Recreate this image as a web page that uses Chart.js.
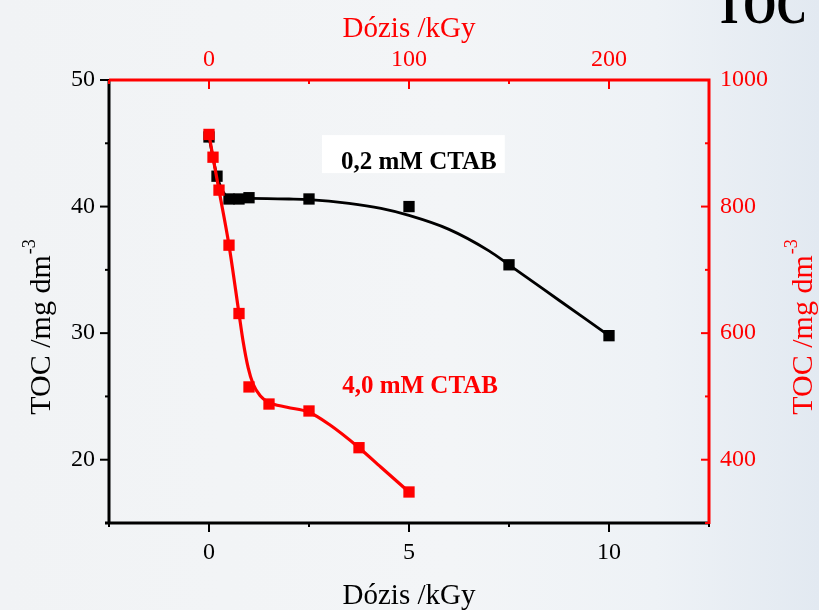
<!DOCTYPE html>
<html>
<head>
<meta charset="utf-8">
<script src="https://cdn.jsdelivr.net/npm/chart.js@4.4.1/dist/chart.umd.min.js"></script>
<style>
  html, body { margin: 0; padding: 0; }
  body {
    width: 819px; height: 610px; overflow: hidden;
    background: linear-gradient(90deg, #f1f3f5 0%, #f3f5f7 55%, #eef2f6 80%, #e2e9f1 100%);
  }
  canvas { display: block; }
</style>
</head>
<body>
<canvas id="chart" width="819" height="610"></canvas>
<script>
// measured points, 0,2 mM CTAB (left axis)
var doseLow = [0, 0.2, 0.5, 0.75, 1, 2.5, 5, 7.5, 10];
var tocLow = [45.5, 42.4, 40.6, 40.6, 40.7, 40.6, 40.0, 35.4, 29.8];
// fitted curve
var fitDoseLow = [0, 0.2, 0.35, 0.5, 1, 2, 2.5, 3.5, 4.3, 5, 6, 7, 7.5, 8.75, 10];
var fitTocLow = [45.5, 42.4, 41.2, 40.7, 40.65, 40.6, 40.55, 40.25, 39.85, 39.3, 38.2, 36.5, 35.4, 32.6, 29.8];

// measured points, 4,0 mM CTAB (right axis)
var doseHigh = [0, 0.1, 0.25, 0.5, 0.75, 1, 1.5, 2.5, 3.75, 5];
var tocHigh = [914, 878, 826, 739, 631, 515, 488, 477, 419, 349];
var fitDoseHigh = [0, 0.1, 0.25, 0.5, 0.75, 0.85, 0.98, 1.1, 1.28, 1.48, 1.95, 2.5, 3.0, 3.75, 4.3, 5];
var fitTocHigh = [914, 878, 826, 739, 631, 588, 545, 520, 501, 491, 483, 475, 456, 419, 388, 349];

// tick labels
var bottomMajor = [0, 5, 10];
var bottomMinor = [-2.5, 2.5, 7.5, 12.5];
var topMajor = [0, 100, 200];
var topMinor = [-50, 50, 150, 250];
var leftMajor = [20, 30, 40, 50];
var leftMinor = [15, 25, 35, 45];
var rightMajor = [400, 600, 800, 1000];
var rightMinor = [300, 500, 700, 900];

var RED = '#ff0000';
var SERIF = '"Liberation Serif", "Times New Roman", serif';

function pts(xs, ys) {
    return xs.map(function(x, i) { return { x: x, y: ys[i] }; });
}

function setTicks(major, minor) {
    return function(scale) {
	scale.ticks = major.concat(minor).sort(function(a, b) { return a - b; })
	    .map(function(v) { return { value: v, major: major.indexOf(v) >= 0 }; });
    };
}

function tickLabel(major) {
    return function(value) {
	return major.indexOf(value) >= 0 ? String(value) : '';
    };
}

function tickFont() {
    return { family: SERIF, size: 24 };
}

// axis lines, tick marks, titles and text labels
var framePlugin = {
    id: 'frame',
    beforeDatasetsDraw: function(chart) {
	var ctx = chart.ctx;
	var x = chart.scales.x, y = chart.scales.y;
	ctx.save();
	ctx.font = 'bold 25px ' + SERIF;
	ctx.textBaseline = 'alphabetic';
	var tx = x.getPixelForValue(3.3), ty = y.getPixelForValue(42.96);
	var w = ctx.measureText('0,2 mM CTAB').width;
	ctx.fillStyle = '#ffffff';
	ctx.fillRect(tx - 19, ty - 34, w + 27, 38);
	ctx.fillStyle = '#000000';
	ctx.fillText('0,2 mM CTAB', tx, ty);
	ctx.restore();
    },
    afterDraw: function(chart) {
	var ctx = chart.ctx;
	var a = chart.chartArea;
	var sx = chart.scales.x, sxt = chart.scales.xTop;
	var sy = chart.scales.y, syr = chart.scales.yRight;
	ctx.save();

	// red label
	ctx.font = 'bold 25px ' + SERIF;
	ctx.fillStyle = RED;
	ctx.fillText('4,0 mM CTAB', sx.getPixelForValue(3.33), sy.getPixelForValue(25.26));

	ctx.lineWidth = 3;
	ctx.lineCap = 'butt';
	// left + bottom (black)
	ctx.strokeStyle = '#000000';
	ctx.beginPath();
	ctx.moveTo(a.left, a.top);
	ctx.lineTo(a.left, a.bottom);
	ctx.moveTo(a.left - 4, a.bottom);
	ctx.lineTo(a.right, a.bottom);
	ctx.stroke();
	ctx.lineWidth = 2;
	sy.ticks.forEach(function(t) {
	    var p = sy.getPixelForValue(t.value);
	    ctx.beginPath();
	    ctx.moveTo(a.left, p);
	    ctx.lineTo(a.left - (t.major ? 9 : 4), p);
	    ctx.stroke();
	});
	sx.ticks.forEach(function(t) {
	    var p = sx.getPixelForValue(t.value);
	    ctx.beginPath();
	    ctx.moveTo(p, a.bottom);
	    ctx.lineTo(p, a.bottom + (t.major ? 9 : 4));
	    ctx.stroke();
	});

	// top + right (red)
	ctx.strokeStyle = RED;
	ctx.lineWidth = 3;
	ctx.beginPath();
	ctx.moveTo(a.left, a.top);
	ctx.lineTo(a.right, a.top);
	ctx.lineTo(a.right, a.bottom + 1);
	ctx.stroke();
	ctx.lineWidth = 2;
	sxt.ticks.forEach(function(t) {
	    var p = sxt.getPixelForValue(t.value);
	    ctx.beginPath();
	    ctx.moveTo(p, a.top);
	    ctx.lineTo(p, a.top + (t.major ? 9 : 4));
	    ctx.stroke();
	});
	syr.ticks.forEach(function(t) {
	    var p = syr.getPixelForValue(t.value);
	    ctx.beginPath();
	    ctx.moveTo(a.right, p);
	    ctx.lineTo(a.right - (t.major ? 8 : 4), p);
	    ctx.stroke();
	});

	// x titles
	var cx = (a.left + a.right) / 2;
	ctx.font = '29px ' + SERIF;
	ctx.textAlign = 'center';
	ctx.textBaseline = 'alphabetic';
	ctx.fillStyle = RED;
	ctx.fillText('Dózis /kGy', cx, 37);
	ctx.fillStyle = '#000000';
	ctx.fillText('Dózis /kGy', cx, 604);

	// y titles with superscript
	function yTitle(bx, color) {
	    var cy = 327;
	    ctx.save();
	    ctx.translate(bx, cy);
	    ctx.rotate(-Math.PI / 2);
	    ctx.fillStyle = color;
	    ctx.textAlign = 'left';
	    ctx.font = '30px ' + SERIF;
	    var main = 'TOC /mg dm';
	    var mw = ctx.measureText(main).width;
	    ctx.font = '18px ' + SERIF;
	    var sw = ctx.measureText('-3').width;
	    var start = -(mw + sw + 1) / 2;
	    ctx.font = '30px ' + SERIF;
	    ctx.fillText(main, start, 0);
	    ctx.font = '18px ' + SERIF;
	    ctx.fillText('-3', start + mw + 1, -15);
	    ctx.restore();
	}
	yTitle(50, '#000000');
	yTitle(812, RED);

	// slide heading, cut at the top edge
	ctx.save();
	ctx.translate(715, 23);
	ctx.scale(1, 1.3);
	ctx.font = 'bold 43px ' + SERIF;
	ctx.textAlign = 'left';
	ctx.fillStyle = '#000000';
	ctx.fillText('TOC', 0, 0);
	ctx.restore();

	ctx.restore();
    }
};

new Chart(document.getElementById('chart').getContext('2d'), {
    type: 'scatter',
    data: {
	datasets: [
	    { data: pts(doseHigh, tocHigh), xAxisID: 'x', yAxisID: 'yRight', order: 0,
	      pointStyle: 'rect', pointRadius: 8, pointBackgroundColor: RED, pointBorderWidth: 0,
	      showLine: false },
	    { data: pts(fitDoseHigh, fitTocHigh), xAxisID: 'x', yAxisID: 'yRight', order: 1,
	      showLine: true, borderColor: RED, borderWidth: 3.2, pointRadius: 0,
	      cubicInterpolationMode: 'monotone' },
	    { data: pts(doseLow, tocLow), xAxisID: 'x', yAxisID: 'y', order: 2,
	      pointStyle: 'rect', pointRadius: 8, pointBackgroundColor: '#000000', pointBorderWidth: 0,
	      showLine: false },
	    { data: pts(fitDoseLow, fitTocLow), xAxisID: 'x', yAxisID: 'y', order: 3,
	      showLine: true, borderColor: '#000000', borderWidth: 2.8, pointRadius: 0,
	      cubicInterpolationMode: 'monotone' }
	]
    },
    options: {
	responsive: false,
	animation: false,
	layout: { padding: 0 },
	plugins: { legend: { display: false }, tooltip: { enabled: false } },
	scales: {
	    x: {
		type: 'linear', position: 'bottom', min: -2.5, max: 12.5,
		grid: { display: false, drawTicks: false }, border: { display: false },
		afterBuildTicks: setTicks(bottomMajor, bottomMinor),
		afterFit: function(s) { s.height = 87; },
		ticks: { callback: tickLabel(bottomMajor), font: tickFont(), color: '#000000',
			 padding: 15, autoSkip: false, maxRotation: 0 }
	    },
	    xTop: {
		type: 'linear', position: 'top', min: -50, max: 250,
		grid: { display: false, drawTicks: false }, border: { display: false },
		afterBuildTicks: setTicks(topMajor, topMinor),
		afterFit: function(s) { s.height = 80; },
		ticks: { callback: tickLabel(topMajor), font: tickFont(), color: RED,
			 padding: 6, autoSkip: false, maxRotation: 0 }
	    },
	    y: {
		type: 'linear', position: 'left', min: 15, max: 50,
		grid: { display: false, drawTicks: false }, border: { display: false },
		afterBuildTicks: setTicks(leftMajor, leftMinor),
		afterFit: function(s) { s.width = 109; },
		ticks: { callback: tickLabel(leftMajor), font: tickFont(), color: '#000000',
			 padding: 14, autoSkip: false }
	    },
	    yRight: {
		type: 'linear', position: 'right', min: 300, max: 1000,
		grid: { display: false, drawTicks: false }, border: { display: false },
		afterBuildTicks: setTicks(rightMajor, rightMinor),
		afterFit: function(s) { s.width = 110; },
		ticks: { callback: tickLabel(rightMajor), font: tickFont(), color: RED,
			 padding: 11, autoSkip: false }
	    }
	}
    },
    plugins: [framePlugin]
});
</script>
</body>
</html>
